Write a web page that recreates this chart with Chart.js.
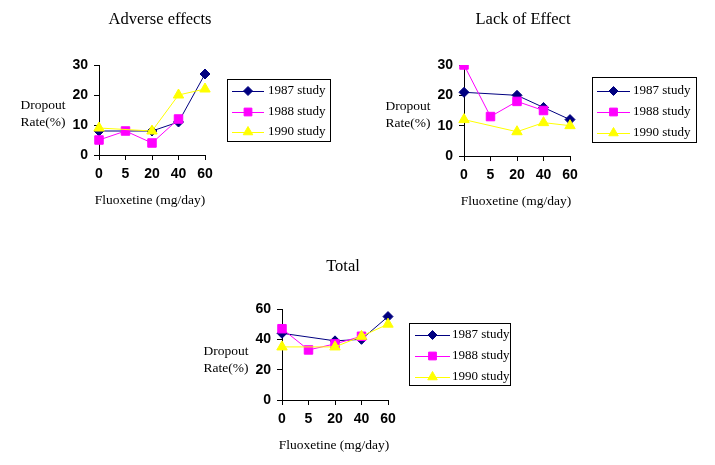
<!DOCTYPE html>
<html>
<head>
<meta charset="utf-8">
<script src="https://cdn.jsdelivr.net/npm/chart.js@4"></script>
<style>
  body { margin: 0; background: #fff; }
  #wrap { position: relative; width: 715px; height: 465px; }
  canvas { position: absolute; left: 0; top: 0; }
</style>
</head>
<body>
<div id="wrap">
  <canvas id="c1" width="715" height="465"></canvas>
  <canvas id="c2" width="715" height="465"></canvas>
  <canvas id="c3" width="715" height="465"></canvas>
</div>
<script>
// dose categories
const doses = ['0', '5', '20', '40', '60'];
const studies = ['1987 study', '1988 study', '1990 study'];

// Adverse effects
const adverse1987 = [8, null, 8, 11, 27];
const adverse1988 = [5, 8, 4, 12, null];
const adverse1990 = [9, null, 8, 20, 22];

// Lack of Effect
const lack1987 = [21, null, 20, 16, 12];
const lack1988 = [30, 13, 18, 15, null];
const lack1990 = [12, null, 8, 11, 10];

// Total
const total1987 = [44, null, 39, 40, 55];
const total1988 = [47, 33, 37, 42, null];
const total1990 = [35, null, 35, 42, 50];

const colors = ['#000080', '#ff00ff', '#ffff00'];
const shapes = ['rectRot', 'rect', 'triangle'];
const radii = [5, 6, 6];

const serif = '"Liberation Serif", "Times New Roman", serif';
const sans = '"Liberation Sans", Arial, sans-serif';

// draws the titles, axis captions and boxed legend
const textPlugin = {
    id: 'panelText',
    afterDraw(chart, args, opts) {
        const ctx = chart.ctx;
        ctx.save();
        ctx.fillStyle = '#000';
        ctx.textBaseline = 'middle';
        ctx.textAlign = 'center';
        ctx.font = '16.5px ' + serif;
        ctx.fillText(opts.title, opts.titleX, opts.titleY);
        ctx.font = '13.5px ' + serif;
        ctx.fillText('Dropout', opts.yCapX, opts.yCapY);
        ctx.fillText('Rate(%)', opts.yCapX, opts.yCapY + 17);
        ctx.fillText('Fluoxetine (mg/day)', opts.xCapX, opts.xCapY);

        const lg = opts.legend;
        ctx.font = '13px ' + serif;
        ctx.strokeStyle = '#000';
        ctx.lineWidth = 1;
        ctx.strokeRect(lg.x + 0.5, lg.y + 0.5, lg.w, lg.h);
        ctx.textAlign = 'left';
        studies.forEach((name, i) => {
            const y = lg.itemY[i];
            ctx.strokeStyle = colors[i];
            ctx.beginPath();
            ctx.moveTo(lg.lineX0, y + 0.5);
            ctx.lineTo(lg.lineX1, y + 0.5);
            ctx.stroke();
            ctx.fillStyle = colors[i];
            Chart.helpers.drawPoint(ctx, { pointStyle: shapes[i], radius: radii[i] - 0.5, borderWidth: 1, rotation: 0 },
                (lg.lineX0 + lg.lineX1) / 2, y);
            ctx.fillStyle = '#000';
            ctx.fillText(name, lg.textX, y);
        });
        ctx.restore();
    }
};

function makePanel(id, series, yMax, yStep, area, text) {
    const yWidth = 40, xHeight = 30;
    const datasets = series.map((vals, i) => ({
        label: studies[i],
        data: vals,
        borderColor: colors[i],
        backgroundColor: colors[i],
        borderWidth: 1,
        pointStyle: shapes[i],
        pointRadius: radii[i],
        pointBorderWidth: 1,
        spanGaps: true,
        tension: 0,
        order: 3 - i
    }));
    return new Chart(document.getElementById(id), {
        type: 'line',
        data: { labels: doses, datasets: datasets },
        options: {
            responsive: false,
            animation: false,
            events: [],
            layout: {
                padding: {
                    left: area.left - yWidth,
                    right: 715 - area.right,
                    top: area.top,
                    bottom: 465 - area.bottom - xHeight
                }
            },
            plugins: {
                legend: { display: false },
                tooltip: { enabled: false },
                panelText: text
            },
            scales: {
                x: {
                    type: 'category',
                    offset: false,
                    afterFit(s) { s.height = xHeight; },
                    border: { color: '#000', width: 1 },
                    grid: { drawOnChartArea: false, drawTicks: true, tickLength: 5, color: '#000' },
                    ticks: { color: '#000', padding: 6, maxRotation: 0, font: { family: sans, size: 14, weight: 'bold' } }
                },
                y: {
                    min: 0,
                    max: yMax,
                    afterFit(s) { s.width = yWidth; },
                    border: { color: '#000', width: 1 },
                    grid: { drawOnChartArea: false, drawTicks: true, tickLength: 5, color: '#000' },
                    ticks: { stepSize: yStep, color: '#000', padding: 6, font: { family: sans, size: 14, weight: 'bold' } }
                }
            }
        },
        plugins: [textPlugin]
    });
}

makePanel('c1', [adverse1987, adverse1988, adverse1990], 30, 10,
    { left: 99, right: 205, top: 65, bottom: 155 },
    {
        title: 'Adverse effects', titleX: 160, titleY: 20,
        yCapX: 43, yCapY: 105, xCapX: 150, xCapY: 200,
        legend: { x: 227, y: 79, w: 103, h: 62, itemY: [91, 112, 132], lineX0: 232, lineX1: 264, textX: 268 }
    });

makePanel('c2', [lack1987, lack1988, lack1990], 30, 10,
    { left: 464, right: 570, top: 65, bottom: 156 },
    {
        title: 'Lack of Effect', titleX: 523, titleY: 20,
        yCapX: 408, yCapY: 106, xCapX: 516, xCapY: 201,
        legend: { x: 592, y: 77, w: 104, h: 65, itemY: [91, 112, 133], lineX0: 597, lineX1: 630, textX: 633 }
    });

makePanel('c3', [total1987, total1988, total1990], 60, 20,
    { left: 282, right: 388, top: 309, bottom: 400 },
    {
        title: 'Total', titleX: 343, titleY: 267,
        yCapX: 226, yCapY: 351, xCapX: 334, xCapY: 445,
        legend: { x: 409, y: 323, w: 101, h: 62, itemY: [335, 356, 377], lineX0: 415, lineX1: 450, textX: 452 }
    });
</script>
</body>
</html>
